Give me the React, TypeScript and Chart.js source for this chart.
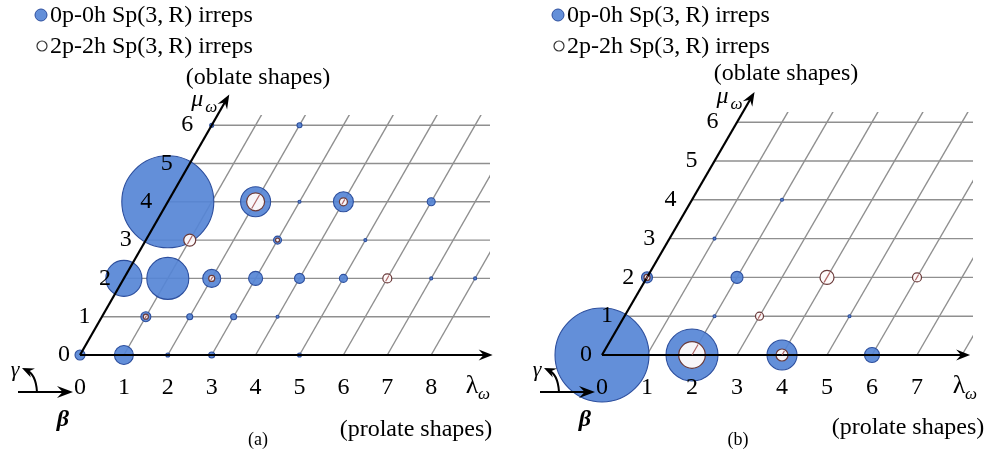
import React, { useEffect, useRef } from "react";
import { Chart, registerables } from "chart.js";

Chart.register(...registerables);

const CANVAS_H = 459;
const SERIF = '"Liberation Serif", "Times New Roman", serif';

// ---------------- data ----------------
const legendLabels = ["0p-0h Sp(3,\u2009R) irreps", "2p-2h Sp(3,\u2009R) irreps"];
const oblateLabel = "(oblate shapes)";
const prolateLabel = "(prolate shapes)";

const aLambdaTicks = ["0", "1", "2", "3", "4", "5", "6", "7", "8"];
const aMuTicks = ["0", "1", "2", "3", "4", "5", "6"];
const bLambdaTicks = ["0", "1", "2", "3", "4", "5", "6", "7"];
const bMuTicks = ["0", "1", "2", "3", "4", "5", "6"];

// [lambda, mu, bubble radius]
type Trip = [number, number, number];
const a0p0h: Trip[] = [
  [0, 0, 5], [1, 0, 9.5], [2, 0, 2], [3, 0, 3], [5, 0, 2],
  [1, 1, 5], [2, 1, 3], [3, 1, 3], [4, 1, 1.5],
  [0, 2, 18], [1, 2, 21], [2, 2, 9], [3, 2, 7], [4, 2, 5], [5, 2, 4], [7, 2, 1.5], [8, 2, 1.5],
  [3, 3, 4], [5, 3, 1.5],
  [0, 4, 46], [2, 4, 15], [3, 4, 1.5], [4, 4, 10], [6, 4, 4],
  [0, 6, 2], [2, 6, 2.5],
];
const a2p2h: Trip[] = [
  [1, 1, 2.5], [2, 2, 3], [6, 2, 4.5], [1, 3, 6], [3, 3, 2], [2, 4, 9], [4, 4, 4],
];
const b0p0h: Trip[] = [
  [0, 0, 47], [2, 0, 26], [4, 0, 15], [6, 0, 7.5],
  [2, 1, 1.5], [5, 1, 1.5],
  [0, 2, 5.5], [2, 2, 6],
  [1, 3, 1.5], [2, 4, 1.5],
];
const b2p2h: Trip[] = [
  [2, 0, 13.3], [4, 0, 6], [3, 1, 4], [0, 2, 3], [4, 2, 7], [6, 2, 4.5],
];

// ---------------- styles / layout ----------------
const BLUE_FILL = "rgba(86,134,214,0.92)";
const BLUE_EDGE = "#2d4f9e";
const OPEN_FILL = "rgba(255,251,251,0.96)";
const OPEN_EDGE = "#6a3a3a";
const GRID = "#8f8f8f";

type Panel = {
  width: number; ox: number; oy: number; sx: number; sy: number;
  gridTop: number; gridRight: number; lamLines: number; muLines: number;
  lamAxisEnd: number; muAxisEnd: number;
  lamTicks: string[]; muTicks: string[]; p0: Trip[]; p2: Trip[];
  legendX: number; oblateX: number; oblateY: number;
  prolateX: number; prolateY: number; tag: string; tagX: number; tagY: number;
};

const panelA: Panel = {
  width: 494, ox: 80, oy: 355, sx: 43.9, sy: 38.3, gridTop: 115, gridRight: 490,
  lamLines: 8, muLines: 6, lamAxisEnd: 9.4, muAxisEnd: 6.8,
  lamTicks: aLambdaTicks, muTicks: aMuTicks, p0: a0p0h, p2: a2p2h,
  legendX: 41, oblateX: 258, oblateY: 78, prolateX: 416, prolateY: 430,
  tag: "(a)", tagX: 258, tagY: 440,
};
const panelB: Panel = {
  width: 493, ox: 108, oy: 355, sx: 45, sy: 38.8, gridTop: 112, gridRight: 479,
  lamLines: 8, muLines: 6, lamAxisEnd: 8.18, muAxisEnd: 6.78,
  lamTicks: bLambdaTicks, muTicks: bMuTicks, p0: b0p0h, p2: b2p2h,
  legendX: 64, oblateX: 292, oblateY: 74, prolateX: 414, prolateY: 428,
  tag: "(b)", tagX: 244, tagY: 440,
};

const pt = (lam: number, mu: number, r?: number) => ({ x: lam + mu / 2, y: mu, r });

function arrowHead(ctx: CanvasRenderingContext2D, x: number, y: number, ang: number, len = 14, hw = 5.5) {
  ctx.save();
  ctx.translate(x, y);
  ctx.rotate(ang);
  ctx.beginPath();
  ctx.moveTo(0, 0);
  ctx.lineTo(-len, -hw);
  ctx.lineTo(-len * 0.65, 0);
  ctx.lineTo(-len, hw);
  ctx.closePath();
  ctx.fillStyle = "#000";
  ctx.fill();
  ctx.restore();
}

function makeOverlay(cfg: Panel) {
  return {
    id: "overlay",
    afterDatasetsDraw(chart: any) {
      const ctx: CanvasRenderingContext2D = chart.ctx;
      const xs = chart.scales.x, ys = chart.scales.y;
      const P = (lam: number, mu: number) => [xs.getPixelForValue(lam + mu / 2), ys.getPixelForValue(mu)];
      const [ox, oy] = P(0, 0);
      ctx.save();

      // slashes inside 2p-2h circles (slanted grid line seen through)
      const [ux, uy] = P(0, 1);
      let dx = ux - ox, dy = uy - oy;
      const dl = Math.hypot(dx, dy);
      dx /= dl; dy /= dl;
      ctx.strokeStyle = "rgba(165,85,85,0.9)";
      ctx.lineWidth = 1.2;
      cfg.p2.forEach(([l, m, r]) => {
        if (r < 2.5) return;
        const [cx, cy] = P(l, m);
        const rr = r - 1.2;
        ctx.beginPath();
        const back = m > 0 ? rr : 0;
        ctx.moveTo(cx - dx * back, cy - dy * back);
        ctx.lineTo(cx + dx * rr, cy + dy * rr);
        ctx.stroke();
      });

      // arrow heads on the axes
      const [lx, ly] = P(cfg.lamAxisEnd, 0);
      arrowHead(ctx, lx, ly, 0);
      const [mx, my] = P(0, cfg.muAxisEnd);
      arrowHead(ctx, mx, my, Math.atan2(my - oy, mx - ox));

      ctx.fillStyle = "#000";
      ctx.textAlign = "center";
      ctx.textBaseline = "middle";
      // lambda tick labels
      ctx.font = `24px ${SERIF}`;
      cfg.lamTicks.forEach((t, i) => {
        const [x] = P(i, 0);
        ctx.fillText(t, x, oy + 33);
      });
      // lambda_omega label
      const [lwx] = P(cfg.lamTicks.length, 0);
      ctx.font = `26px ${SERIF}`;
      ctx.fillText("\u03BB", lwx - 3, oy + 31);
      ctx.font = `italic 17px ${SERIF}`;
      ctx.fillText("\u03C9", lwx + 9, oy + 40);
      // mu tick labels
      ctx.font = `24px ${SERIF}`;
      cfg.muTicks.forEach((t, j) => {
        const [x, y] = P(0, j);
        ctx.fillText(t, x - (16 + 1.4 * j), y);
      });
      // mu_omega label
      ctx.font = `italic 24px ${SERIF}`;
      ctx.fillText("\u03BC", mx - 32, my + 5);
      ctx.font = `italic 17px ${SERIF}`;
      ctx.fillText("\u03C9", mx - 18, my + 13);

      // axis captions
      ctx.font = `24px ${SERIF}`;
      ctx.fillText(oblateLabel, cfg.oblateX, cfg.oblateY);
      ctx.fillText(prolateLabel, cfg.prolateX, cfg.prolateY);
      ctx.font = `18px ${SERIF}`;
      ctx.fillText(cfg.tag, cfg.tagX, cfg.tagY);

      // legend
      ctx.textAlign = "left";
      ctx.font = `24px ${SERIF}`;
      const lx0 = cfg.legendX;
      ctx.beginPath();
      ctx.arc(lx0, 15, 6, 0, Math.PI * 2);
      ctx.fillStyle = BLUE_FILL; ctx.fill();
      ctx.strokeStyle = BLUE_EDGE; ctx.lineWidth = 1; ctx.stroke();
      ctx.beginPath();
      ctx.arc(lx0 + 1, 46, 5, 0, Math.PI * 2);
      ctx.fillStyle = "#fff"; ctx.fill();
      ctx.strokeStyle = "#333"; ctx.lineWidth = 1.2; ctx.stroke();
      ctx.fillStyle = "#000";
      ctx.fillText(legendLabels[0], lx0 + 9, 16);
      ctx.fillText(legendLabels[1], lx0 + 9, 47);

      // beta / gamma orientation sign
      const s = ox - 62, ay = oy + 37;
      ctx.strokeStyle = "#000"; ctx.lineWidth = 2;
      ctx.beginPath(); ctx.moveTo(s, ay); ctx.lineTo(s + 50, ay); ctx.stroke();
      arrowHead(ctx, s + 55, ay, 0, 16, 6);
      ctx.beginPath();
      ctx.moveTo(s + 19, ay);
      ctx.quadraticCurveTo(s + 18, ay - 18, s + 8, ay - 22);
      ctx.stroke();
      arrowHead(ctx, s + 4, ay - 24, Math.atan2(-6, -13), 12, 5);
      ctx.textAlign = "center";
      ctx.font = `italic 22px ${SERIF}`;
      ctx.fillText("\u03B3", s - 3, ay - 22);
      ctx.font = `italic bold 24px ${SERIF}`;
      ctx.fillText("\u03B2", s + 45, ay + 28);

      ctx.restore();
    },
  };
}

function buildConfig(cfg: Panel): any {
  const datasets: any[] = [];
  for (let k = 1; k <= cfg.muLines; k++) {
    datasets.push({
      type: "scatter", showLine: true, data: [pt(0, k), pt(40, k)],
      borderColor: GRID, borderWidth: 1.4, pointRadius: 0, order: 10,
    });
  }
  for (let k = 1; k <= cfg.lamLines; k++) {
    datasets.push({
      type: "scatter", showLine: true, data: [pt(k, 0), pt(k, 40)],
      borderColor: GRID, borderWidth: 1.4, pointRadius: 0, order: 10,
    });
  }
  datasets.push({
    type: "bubble", label: legendLabels[0],
    data: cfg.p0.map(([l, m, r]) => pt(l, m, r)),
    backgroundColor: BLUE_FILL, borderColor: BLUE_EDGE, borderWidth: 1.1,
    clip: false, order: 8,
  });
  datasets.push({
    type: "bubble", label: legendLabels[1],
    data: cfg.p2.map(([l, m, r]) => pt(l, m, r)),
    backgroundColor: OPEN_FILL, borderColor: OPEN_EDGE, borderWidth: 1.2,
    clip: false, order: 6,
  });
  datasets.push({
    type: "scatter", showLine: true, data: [pt(0, 0), pt(cfg.lamAxisEnd - 0.2, 0)],
    borderColor: "#000", borderWidth: 2.2, pointRadius: 0, clip: false, order: 4,
  });
  datasets.push({
    type: "scatter", showLine: true, data: [pt(0, 0), pt(0, cfg.muAxisEnd - 0.2)],
    borderColor: "#000", borderWidth: 2.2, pointRadius: 0, clip: false, order: 4,
  });

  return {
    type: "bubble",
    data: { datasets },
    options: {
      responsive: false,
      animation: false,
      events: [],
      layout: {
        autoPadding: false,
        padding: { left: 0, top: cfg.gridTop, right: cfg.width - cfg.gridRight, bottom: 0 },
      },
      scales: {
        x: { type: "linear", display: false, min: -cfg.ox / cfg.sx, max: (cfg.gridRight - cfg.ox) / cfg.sx },
        y: { type: "linear", display: false, min: -(CANVAS_H - cfg.oy) / cfg.sy, max: (cfg.oy - cfg.gridTop) / cfg.sy },
      },
      plugins: { legend: { display: false }, tooltip: { enabled: false }, title: { display: false } },
    },
    plugins: [makeOverlay(cfg)],
  };
}

function PanelChart({ cfg }: { cfg: Panel }) {
  const ref = useRef<HTMLCanvasElement | null>(null);
  useEffect(() => {
    if (!ref.current) return;
    const chart = new Chart(ref.current, buildConfig(cfg));
    return () => chart.destroy();
  }, [cfg]);
  return (
    <canvas ref={ref} width={cfg.width} height={CANVAS_H}
      style={{ display: "block", width: cfg.width, height: CANVAS_H }} />
  );
}

export default function App() {
  useEffect(() => {
    document.body.style.margin = "0";
    document.body.style.background = "#fff";
  }, []);
  return (
    <div style={{ position: "absolute", left: 0, top: 0, width: 987, height: CANVAS_H, display: "flex", background: "#fff" }}>
      <PanelChart cfg={panelA} />
      <PanelChart cfg={panelB} />
    </div>
  );
}
